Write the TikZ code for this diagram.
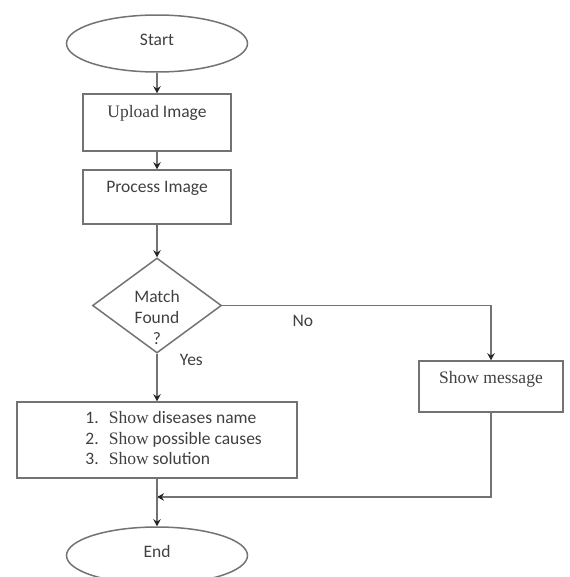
\documentclass[tikz,border=0pt]{standalone}
\usepackage{fontspec}
\setmainfont{Carlito}
\newfontfamily\timesfont{Liberation Serif}
\usetikzlibrary{shapes.geometric,arrows.meta}

\tikzset{
  flowline/.style={draw=black!55, line width=0.9pt},
  flowarrow/.style={flowline, -{Stealth[length=4.2pt,width=4.5pt,color=black!85]}},
  terminal/.style={ellipse, flowline, minimum width=108.6pt, minimum height=34.2pt, inner sep=0pt, text depth=5pt},
  plainbox/.style={rectangle, flowline, minimum width=89pt},
  topbox/.style={plainbox, text height=7.5pt, text depth=13pt},
  decision/.style={diamond, flowline, minimum width=77.4pt, minimum height=57pt, inner sep=0pt}
}

\begin{document}
\begin{tikzpicture}[x=0.6pt, y=-0.6pt, font=\fontsize{10.5}{12.6}\selectfont, text=black!75]
  \useasboundingbox (0,0) rectangle (569,577);

  % nodes
  \node[terminal] (start) at (157,43.5) {Start};
  \node[topbox, minimum height=34.2pt] (upload) at (157,122.5) {{\timesfont Upload} Image};
  \node[topbox, minimum height=32.4pt] (process) at (157,197) {Process Image};
  \node[decision, label={[align=center, yshift=-7pt]center:Match\\Found\\?}] (match) at (157,305.5) {};
  \node[topbox, minimum width=86.4pt, minimum height=30.6pt, text depth=11.5pt] (showmsg) at (491,386.5) {\timesfont Show message};
  \node[plainbox, minimum width=168pt, minimum height=45.6pt, font=\fontsize{10.5}{12.3}\selectfont] (results) at (157,440) {%
    \begin{tabular}{@{\hspace{20pt}}l@{\hspace{6pt}}l@{}}
      1. & {\timesfont Show} diseases name\\
      2. & {\timesfont Show} possible causes\\
      3. & {\timesfont Show} solution
    \end{tabular}};
  \node[terminal] (end) at (157,555.5) {End};
  \coordinate (join) at (157,497);

  % connectors
  \draw[flowarrow] (start) -- (upload);
  \draw[flowarrow] (upload) -- (process);
  \draw[flowarrow] (process) -- (match);
  \draw[flowarrow] (match) -- node[pos=0.14, right=10pt] {Yes} (results);
  \draw[flowarrow] (match.east) -| node[pos=0.15, below=2pt] {No} (showmsg.north);
  \draw[flowarrow] (showmsg.south) |- (join);
  \draw[flowarrow] (results) -- (end);
\end{tikzpicture}
\end{document}
